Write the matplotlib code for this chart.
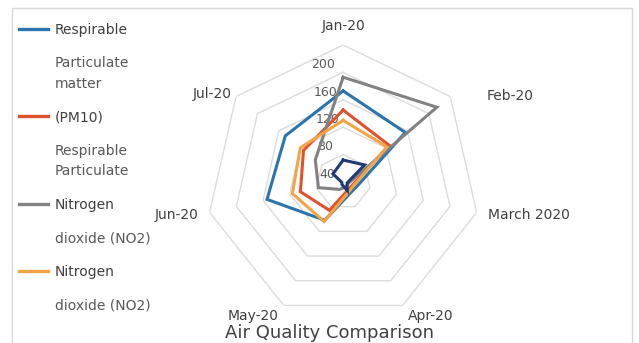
import numpy as np
import matplotlib.pyplot as plt
from matplotlib.lines import Line2D
from matplotlib.patches import Rectangle
from matplotlib.transforms import ScaledTranslation

months = ['Jan-20', 'Feb-20', 'March 2020', 'Apr-20', 'May-20', 'Jun-20', 'Jul-20']

pm10_a = [133, 116, 22, 20, 62, 114, 108]   # blue
pm10_b = [105, 86, 15, 14, 46, 64, 74]      # red
no2_a = [153, 175, 8, 8, 12, 37, 52]        # grey
no2_b = [90, 82, 17, 17, 64, 76, 80]        # orange
other = [32, 40, 6, 14, 4, 2, 19]           # navy (not in legend)

rings = [40, 80, 120, 160, 200]

colors = ['#2a74b0', '#e0522c', '#828282', '#f3a445', '#203a74']
series = [pm10_a, pm10_b, no2_a, no2_b, other]

fig = plt.figure(figsize=(6.39, 3.43), dpi=100)
ax = fig.add_axes([0.3226, 0.070, 0.4288, 0.7988], projection='polar')
ax.set_theta_offset(np.pi / 2)
ax.set_theta_direction(-1)

angles = np.linspace(0, 2 * np.pi, len(months), endpoint=False)
closed = np.append(angles, angles[0])

# heptagon gridlines instead of circles
ax.grid(False)
ax.spines['polar'].set_visible(False)
for v in rings:
    ax.plot(closed, [v] * len(closed), color='#dcdcdc', lw=1, zorder=1)

for vals, c in zip(series, colors):
    ax.plot(closed, vals + vals[:1], color=c, lw=2.2, solid_joinstyle='miter', zorder=3)

ax.set_ylim(0, 200)
ax.set_rgrids(rings, labels=[str(v) for v in rings], angle=-4,
              fontsize=9, color='#595959')
shift = ScaledTranslation(-0.22, -0.26, fig.dpi_scale_trans)
for lab in ax.get_yticklabels():
    lab.set_transform(lab.get_transform() + shift)

ax.set_xticks(angles)
ax.set_xticklabels(months, fontsize=10, color='#404040')
ax.tick_params(axis='x', pad=-2)
for lab, a in zip(ax.get_xticklabels(), angles):
    deg = np.degrees(a)
    if deg < 1:
        lab.set_ha('center'); lab.set_va('bottom')
    elif deg < 180:
        lab.set_ha('left')
    else:
        lab.set_ha('right')
# Excel pushed these two labels a bit further out
xl = ax.get_xticklabels()
xl[1].set_transform(xl[1].get_transform() + ScaledTranslation(0.27, -0.07, fig.dpi_scale_trans))
xl[6].set_transform(xl[6].get_transform() + ScaledTranslation(0.05, -0.05, fig.dpi_scale_trans))

# legend (text wraps like the original chart)
rows = [("Respirable", colors[0]), ("Particulate\nmatter", None), ("(PM10)", colors[1]),
        ("Respirable\nParticulate", None), ("Nitrogen", colors[2]),
        ("dioxide (NO2)", None), ("Nitrogen", colors[3]), ("dioxide (NO2)", None)]
handles = [Line2D([], [], color=c if c else 'none', lw=2.4) for _, c in rows]
leg = fig.legend(handles, [r[0] for r in rows], loc='upper left',
                 bbox_to_anchor=(0.01, 0.97), frameon=False, fontsize=10,
                 handlelength=2.1, handletextpad=0.5, labelspacing=1.4)
for t, (_, c) in zip(leg.get_texts(), rows):
    t.set_color('#404040' if c else '#595959')
    t.set_linespacing(1.6)

fig.text(0.515, 0.03, 'Air Quality Comparison', ha='center', va='center',
         fontsize=13, color='#404040')

fig.patches.append(Rectangle((12 / 639, -0.1), 620 / 639, 1.1 - 8 / 343,
                             transform=fig.transFigure, fill=False,
                             edgecolor='#d9d9d9', lw=1))

fig.savefig('out.png', dpi=100)
